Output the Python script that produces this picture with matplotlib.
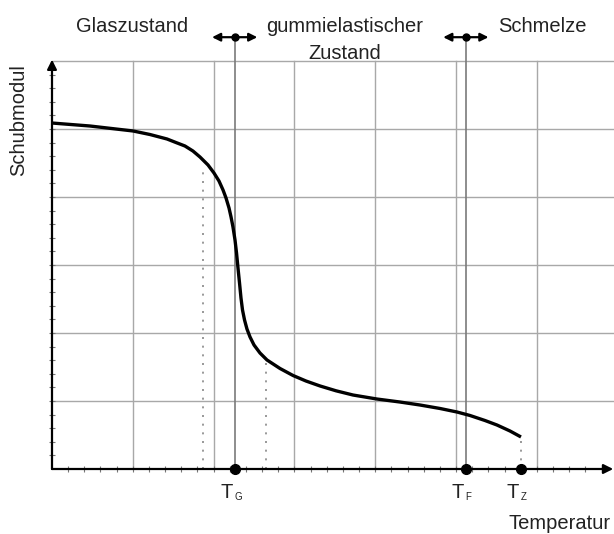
import numpy as np
import matplotlib
matplotlib.use("Agg")
import matplotlib.pyplot as plt

plt.rcParams["font.family"] = ["Liberation Sans", "DejaVu Sans"]

# ── Data (grid units: one grid cell = 1 on both axes) ────────────────────────
temp = [0.000, 0.470, 1.002, 1.212, 1.423, 1.534, 1.645, 1.744, 1.831, 1.930,
        2.004, 2.066, 2.116, 2.153, 2.190, 2.215, 2.239, 2.264, 2.283, 2.301,
        2.320, 2.338, 2.357, 2.382, 2.412, 2.450, 2.499, 2.573, 2.660, 2.821,
        2.982, 3.142, 3.316, 3.514, 3.724, 4.021, 4.305, 4.553, 4.800, 5.011,
        5.171, 5.357, 5.505, 5.666, 5.802]
modul = [5.088, 5.044, 4.971, 4.919, 4.853, 4.801, 4.750, 4.676, 4.588, 4.471,
         4.353, 4.235, 4.103, 3.985, 3.838, 3.706, 3.559, 3.368, 3.176, 2.956,
         2.735, 2.515, 2.338, 2.191, 2.059, 1.941, 1.824, 1.706, 1.603, 1.478,
         1.375, 1.294, 1.221, 1.150, 1.088, 1.029, 0.985, 0.941, 0.890, 0.838,
         0.787, 0.713, 0.647, 0.559, 0.471]

T_G, T_F, T_Z = 2.26, 5.12, 5.80
dotted_x   = [1.87, 2.65]
dotted_top = [4.44, 1.64]

region_labels = ["Glaszustand", "gummielastischer", "Zustand", "Schmelze"]
region_x      = [0.99, 3.625, 3.625, 6.07]
region_y      = [6.43, 6.43, 6.03, 6.43]
temp_marks    = [("G", T_G), ("F", T_F), ("Z", T_Z)]

GRID = "#a8a8a8"
TXT  = "#222222"
FS   = 14.5

# ── Figure: axes fill the canvas, data units mapped to pixels ────────────────
fig = plt.figure(figsize=(6.14, 5.34), dpi=100)
ax = fig.add_axes([0, 0, 1, 1])
ax.set_xlim(-52 / 80.83, 562 / 80.83)
ax.set_ylim(-65 / 68, 469 / 68)
ax.axis("off")

xmax = ax.get_xlim()[1]

# grid
for gy in range(1, 7):
    ax.plot([0, xmax], [gy, gy], color=GRID, lw=1.0, zorder=1)
for gx in range(1, 7):
    ax.plot([gx, gx], [0, 6], color=GRID, lw=1.0, zorder=1)

# minor ticks on axes
mt = np.arange(0.2, 6.9, 0.2)
ax.plot(mt, np.zeros_like(mt), ls="none", marker="|", ms=5, mew=0.8,
        color="#777777", zorder=2)
mty = np.arange(0.2, 6.0, 0.2)
ax.plot(np.zeros_like(mty), mty, ls="none", marker="_", ms=5, mew=0.8,
        color="#777777", zorder=2)

# transition temperature lines with double arrows
arrow_y = 6.35
for tx in (T_G, T_F):
    ax.plot([tx, tx], [0, arrow_y], color="#7a7a7a", lw=1.2, zorder=2)
    ax.annotate("", xy=(tx - 0.28, arrow_y), xytext=(tx + 0.28, arrow_y),
                arrowprops=dict(arrowstyle="<|-|>", color="black", lw=1.6,
                                mutation_scale=12, shrinkA=0, shrinkB=0))
    ax.plot(tx, arrow_y, "o", color="black", ms=5, zorder=5)

# dotted helper lines
for dx, top in zip(dotted_x, dotted_top):
    ax.plot([dx, dx], [0, top], color="#888888", lw=1.2,
            ls=(0, (1.2, 4)), zorder=2)
ax.plot([T_Z, T_Z], [0, modul[-1]], color="#888888", lw=1.2,
        ls=(0, (1.2, 4)), zorder=2)

# axes with arrows
ax.annotate("", xy=(0, 6.02), xytext=(0, 0),
            arrowprops=dict(arrowstyle="-|>", color="black", lw=1.6,
                            mutation_scale=14, shrinkA=0, shrinkB=0),
            zorder=4)
ax.annotate("", xy=(xmax - 0.01, 0), xytext=(0, 0),
            arrowprops=dict(arrowstyle="-|>", color="black", lw=1.6,
                            mutation_scale=14, shrinkA=0, shrinkB=0),
            zorder=4)

# curve
ax.plot(temp, modul, color="black", lw=2.4, solid_joinstyle="round",
        solid_capstyle="butt", zorder=4)

# dots and labels on the temperature axis
for sub, tx in temp_marks:
    ax.plot(tx, 0, "o", color="black", ms=7, zorder=6)
    ax.text(tx - 0.025, -0.43, "T", ha="right", va="baseline",
            fontsize=FS, color=TXT)
    ax.text(tx - 0.005, -0.455, sub, ha="left", va="baseline",
            fontsize=7, color=TXT)

# region labels
for lab, rx, ry in zip(region_labels, region_x, region_y):
    ax.text(rx, ry, lab, ha="center", va="baseline", fontsize=FS, color=TXT)

ax.text(5.65, -0.882, "Temperatur", ha="left", va="baseline",
        fontsize=FS, color=TXT)
ax.text(-0.41, 5.13, "Schubmodul", rotation=90, ha="center", va="center",
        fontsize=FS, color=TXT)

fig.savefig("out.png", dpi=100)
